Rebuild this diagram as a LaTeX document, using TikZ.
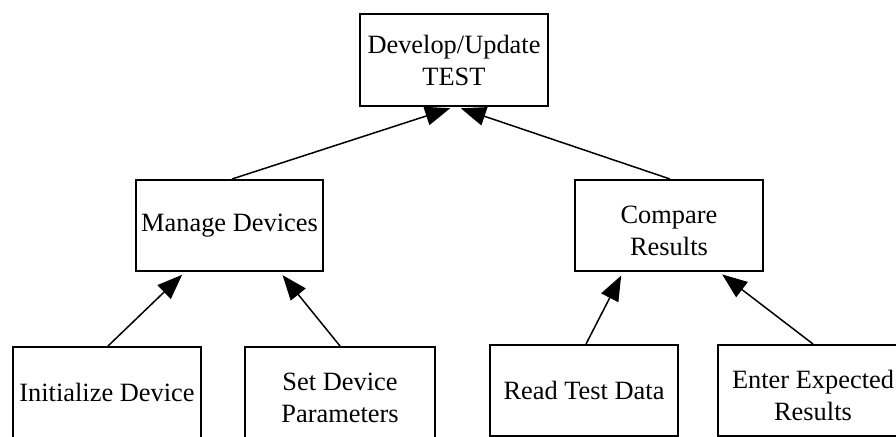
\documentclass[tikz,border=0pt]{standalone}
\usepackage{fontspec}
\setmainfont{Liberation Serif}
\usetikzlibrary{arrows.meta}
\tikzset{
  task/.style={draw=black, line width=2pt, fill=white, minimum width=188pt,
    minimum height=91pt, inner sep=2pt, align=center,
    font=\fontsize{26.4pt}{32pt}\selectfont},
  link/.style={line width=1.5pt, -{Triangle[length=25pt,width=19pt]},
    shorten >=4pt}
}
\begin{document}
\begin{tikzpicture}[x=1pt,y=-1pt]
\useasboundingbox (0,0) rectangle (896,436);
\clip (0,0) rectangle (896,436);

% root task
\node[task, minimum height=92pt] (top) at (454,60) {Develop/Update\\TEST};

% second level
\node[task, minimum width=187pt] (manage) at (229.5,225.5) {Manage Devices};
\node[task] (compare) at (669,225.5) {\rule{0pt}{29pt}Compare\\Results};

% leaf tasks (their lower parts run off the page)
\node[task] (init)  at (107,392.5) {Initialize Device};
\node[task, minimum width=190pt] (setp) at (340,392.5) {\rule{0pt}{29pt}Set Device\\Parameters};
\node[task] (read)  at (584,390.5) {Read Test Data};
\node[task, minimum width=190pt] (enter) at (813,390.5) {\rule{0pt}{29pt}Enter Expected\\Results};

% connectors up the hierarchy
\draw[link] ([xshift=2.5pt]manage.north) -- ([xshift=0pt]top.south);
\draw[link] ([xshift=1pt]compare.north) -- ([xshift=3pt]top.south);

\draw[link] ([xshift=1pt]init.north) -- ([xshift=-44.5pt]manage.south);
\draw[link] (setp.north) -- ([xshift=50.5pt]manage.south);
\draw[link] ([xshift=2pt]read.north) -- ([xshift=-46pt]compare.south);
\draw[link] (enter.north) -- ([xshift=50pt]compare.south);
\end{tikzpicture}
\end{document}
